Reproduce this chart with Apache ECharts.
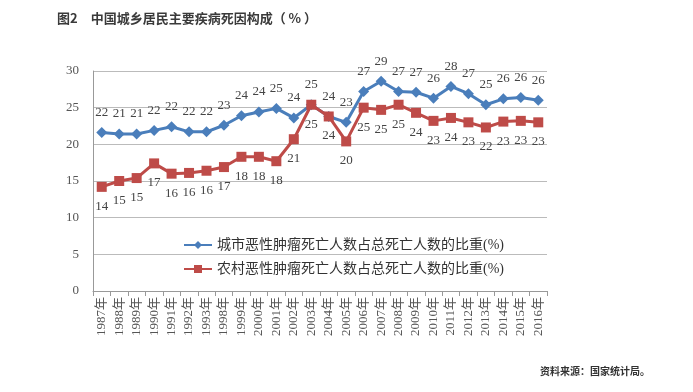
<!DOCTYPE html>
<html><head><meta charset="utf-8">
<script src="https://cdn.jsdelivr.net/npm/echarts@6/dist/echarts.min.js"></script>
<style>html,body{margin:0;padding:0;background:#fff}#c{width:693px;height:392px}</style>
</head><body><div id="c"></div>
<script>
var categories = ['1987年','1988年','1989年','1990年','1991年','1992年','1993年','1998年','1999年','2000年','2001年','2002年','2003年','2004年','2005年','2006年','2007年','2008年','2009年','2010年','2011年','2012年','2013年','2014年','2015年','2016年'];
var urban = [21.6,21.4,21.4,21.9,22.4,21.7,21.7,22.6,23.9,24.4,24.9,23.6,25.4,23.8,23.0,27.2,28.6,27.2,27.1,26.3,27.9,26.9,25.4,26.2,26.4,26.0];
var rural = [14.2,15.0,15.4,17.4,16.0,16.1,16.4,16.9,18.3,18.3,17.7,20.7,25.4,23.8,20.4,25.0,24.7,25.4,24.3,23.2,23.6,23.0,22.3,23.1,23.2,23.0];
var yTicks = [0,5,10,15,20,25,30];
var names = ['城市恶性肿瘤死亡人数占总死亡人数的比重(%)','农村恶性肿瘤死亡人数占总死亡人数的比重(%)'];
var serif = '"Liberation Serif","DejaVu Serif","Noto Sans CJK SC",serif';
var chart = echarts.init(document.getElementById('c'));
chart.setOption({
  animation:false,
  title:{text:'图2　中国城乡居民主要疾病死因构成（ % ）',left:52,top:7,textStyle:{fontSize:13,fontWeight:'bold',color:'#3a3a3a',fontFamily:'"Noto Sans CJK SC",sans-serif'}},
  graphic:[{type:'text',left:540,top:366,style:{text:'资料来源：国家统计局。',fontSize:10,fontWeight:'bold',fill:'#333',fontFamily:'"Noto Sans CJK SC",sans-serif'}}],
  legend:{orient:'vertical',left:178,top:233,itemGap:10,itemWidth:28,itemHeight:10,data:names,
    textStyle:{fontSize:14,color:'#333',fontFamily:serif}},
  grid:{left:93,right:146,top:71,bottom:101},
  xAxis:{type:'category',data:categories,boundaryGap:true,
    axisLine:{lineStyle:{color:'#999'}},axisTick:{show:true,lineStyle:{color:'#999'}},
    axisLabel:{rotate:90,fontSize:13,color:'#555',fontFamily:serif,margin:6,interval:0}},
  yAxis:{type:'value',min:yTicks[0],max:yTicks[yTicks.length-1],interval:5,
    axisLine:{show:true,lineStyle:{color:'#999'}},axisTick:{show:false},
    splitLine:{lineStyle:{color:'#bbb'}},
    axisLabel:{fontSize:13,color:'#555',fontFamily:serif,margin:14}},
  series:[
    {name:names[0],type:'line',data:urban,symbol:'diamond',symbolSize:11,
     lineStyle:{width:3,color:'#4a7ebb'},itemStyle:{color:'#4a7ebb'},
     label:{show:true,position:'top',distance:8,fontSize:13,color:'#444',fontFamily:serif,formatter:function(p){return Math.round(p.value);}}},
    {name:names[1],type:'line',data:rural,symbol:'rect',symbolSize:10,
     lineStyle:{width:3,color:'#be4b48'},itemStyle:{color:'#be4b48'},
     label:{show:true,position:'bottom',distance:8,fontSize:13,color:'#444',fontFamily:serif,formatter:function(p){return Math.round(p.value);}}}
  ]
});
</script></body></html>
